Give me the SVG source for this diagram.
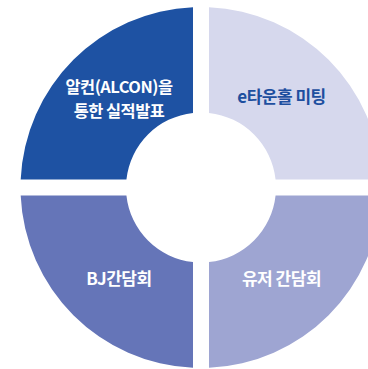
<svg xmlns="http://www.w3.org/2000/svg" width="368" height="369" viewBox="0 0 368 369">
<style>
.lbl{font-family:"Noto Sans CJK KR","Noto Sans",sans-serif;font-weight:bold;font-size:17px;text-anchor:middle;letter-spacing:-0.5px}
.sm{font-size:16.4px}
.w{fill:#ffffff}
.d{fill:#1e4f9f}
</style>
<rect width="368" height="369" fill="#ffffff"/>
<g id="node-alcon">
<path d="M193,7.18 A180.5,180.5 0 0 0 20.68,179.5 L126.43,179.5 A75,75 0 0 1 193,112.93 Z" fill="#1e52a3"/>
<text class="lbl sm w" x="119" y="92.5">알컨(ALCON)을</text>
<text class="lbl sm w" x="119" y="116.5">통한 실적발표</text>
</g>
<g id="node-etownhall">
<path d="M209,7.18 A180.5,180.5 0 0 1 381.32,179.5 L275.57,179.5 A75,75 0 0 0 209,112.93 Z" fill="#d6d8ed"/>
<text class="lbl d" x="281.5" y="103">e타운홀 미팅</text>
</g>
<g id="node-bj">
<path d="M193,367.82 A180.5,180.5 0 0 1 20.68,195.5 L126.43,195.5 A75,75 0 0 0 193,262.07 Z" fill="#6575b8"/>
<text class="lbl w" x="119" y="285">BJ간담회</text>
</g>
<g id="node-user">
<path d="M209,367.82 A180.5,180.5 0 0 0 381.32,195.5 L275.57,195.5 A75,75 0 0 1 209,262.07 Z" fill="#9ea5d2"/>
<text class="lbl w" x="281.5" y="285">유저 간담회</text>
</g>
<g id="connectors"/>
</svg>
